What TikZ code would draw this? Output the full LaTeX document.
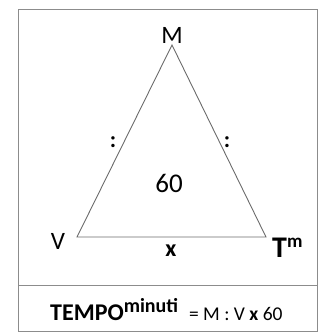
\documentclass[tikz,border=0pt]{standalone}
\usepackage{fontspec}
\setmainfont{Carlito}
\usetikzlibrary{calc, positioning}

\begin{document}
\begin{tikzpicture}[x=1pt, y=-1pt, thin]
        \tikzset{
            frame/.style={draw=black!45, line width=0.8pt},
            side/.style={draw=black!58, line width=0.9pt},
            vertex/.style={font=\fontsize{25}{25}\selectfont, inner sep=0pt},
            op/.style={font=\bfseries\fontsize{23}{23}\selectfont, inner sep=0pt}
        }
        \useasboundingbox (0,0) rectangle (325,333);

        % cornice
        \draw[frame] (18,9) rectangle (317,331);
        \draw[frame] (18,285) -- (317,285);

        % triangolo
        \coordinate (m) at (172,45);
        \coordinate (v) at (77,237);
        \coordinate (t) at (266,237);
        \draw[side] (m) -- (v) -- (t) -- cycle;

        \node[vertex] (mlab) at (172,35) {M};
        \node[vertex] (vlab) at (58,241) {V};
        \node[vertex, anchor=base west] (tlab) at (272,257) {\bfseries\fontsize{30}{30}\selectfont T\raisebox{10pt}{\fontsize{19}{19}\selectfont m}};
        \node[op, font=\bfseries\fontsize{24}{24}\selectfont] (per) at (171,251) {x};
        \node[op] (div1) at (113,142.5) {:};
        \node[op] (div2) at (227,142.5) {:};
        \node[vertex, font=\fontsize{27}{27}\selectfont] (sixty) at (169,183.5) {60};

        % formula
        \node[inner sep=0pt, anchor=base west] (formula) at (50,320) {\fontsize{24}{24}\selectfont\bfseries TEMPO\raisebox{8pt}{\fontsize{20}{20}\selectfont minuti}\normalfont\fontsize{19.5}{19.5}\selectfont\hspace{11pt}= M : V \textbf{x} 60};
    \end{tikzpicture}
\end{document}
